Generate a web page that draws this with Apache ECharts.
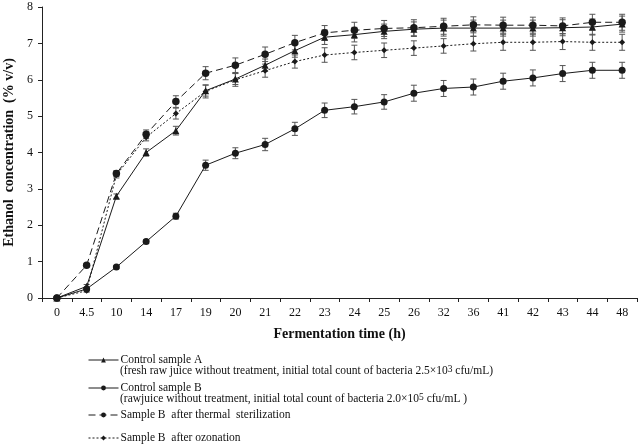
<!DOCTYPE html>
<html>
<head>
<meta charset="utf-8">
<script src="https://cdn.jsdelivr.net/npm/echarts@6/dist/echarts.min.js"></script>
<style>html,body{margin:0;padding:0;background:#fff}#c{width:638px;height:446px}</style>
</head>
<body>
<div id="c"></div>
<script>
var categories = ['0','4.5','10','14','17','19','20','21','22','23','24','25','26','32','36','41','42','43','44','48'];
var yTicks = [0,1,2,3,4,5,6,7,8];

var controlA    = [0, 0.32, 2.80, 4.00, 4.60, 5.70, 6.02, 6.40, 6.80, 7.17, 7.24, 7.33, 7.39, 7.42, 7.42, 7.42, 7.42, 7.43, 7.45, 7.53];
var controlAErr = [0, 0.05, 0.06, 0.10, 0.12, 0.15, 0.15, 0.17, 0.18, 0.20, 0.20, 0.20, 0.20, 0.22, 0.22, 0.22, 0.22, 0.22, 0.22, 0.22];
var controlB    = [0, 0.25, 0.85, 1.55, 2.25, 3.65, 3.98, 4.22, 4.65, 5.16, 5.26, 5.39, 5.63, 5.76, 5.80, 5.96, 6.05, 6.17, 6.26, 6.26];
var controlBErr = [0, 0.03, 0.04, 0.05, 0.08, 0.14, 0.15, 0.17, 0.18, 0.20, 0.20, 0.20, 0.22, 0.22, 0.22, 0.22, 0.22, 0.22, 0.22, 0.22];
var thermal     = [0, 0.90, 3.42, 4.50, 5.40, 6.18, 6.40, 6.70, 7.02, 7.29, 7.36, 7.41, 7.43, 7.47, 7.51, 7.50, 7.50, 7.48, 7.58, 7.58];
var thermalErr  = [0, 0.04, 0.08, 0.12, 0.16, 0.18, 0.20, 0.20, 0.20, 0.20, 0.22, 0.22, 0.22, 0.22, 0.22, 0.22, 0.22, 0.22, 0.22, 0.22];
var ozonation   = [0, 0.20, 3.38, 4.42, 5.07, 5.68, 6.00, 6.25, 6.50, 6.68, 6.75, 6.81, 6.87, 6.93, 6.99, 7.03, 7.03, 7.05, 7.03, 7.03];
var ozonationErr= [0, 0.04, 0.08, 0.10, 0.15, 0.18, 0.18, 0.18, 0.18, 0.20, 0.20, 0.20, 0.20, 0.20, 0.20, 0.22, 0.22, 0.22, 0.22, 0.22];

var names = ['Control sample A', 'Control sample B', 'Sample B  after thermal  sterilization', 'Sample B  after ozonation'];
var subLineA = '(fresh raw juice without treatment, initial total count of bacteria 2.5×10{s|3} cfu/mL)';
var subLineB = '(rawjuice without treatment, initial total count of bacteria 2.0×10{s|5} cfu/mL )';

var FONT = 'Liberation Serif';
var LINE = '#1a1a1a';

function errSeries(vals, errs) {
  var d = vals.map(function (v, i) { return [i, v - errs[i], v + errs[i]]; });
  return {
    type: 'custom',
    silent: true,
    z: 1,
    data: d,
    renderItem: function (params, api) {
      var i = api.value(0);
      var lo = api.coord([i, api.value(1)]);
      var hi = api.coord([i, api.value(2)]);
      var w = 3;
      var st = { stroke: '#555', lineWidth: 1 };
      return {
        type: 'group',
        children: [
          { type: 'line', shape: { x1: lo[0], y1: lo[1], x2: hi[0], y2: hi[1] }, style: st },
          { type: 'line', shape: { x1: lo[0] - w, y1: lo[1], x2: lo[0] + w, y2: lo[1] }, style: st },
          { type: 'line', shape: { x1: hi[0] - w, y1: hi[1], x2: hi[0] + w, y2: hi[1] }, style: st }
        ]
      };
    }
  };
}

function lineSeries(name, vals, symbol, size, dash) {
  return {
    name: name,
    type: 'line',
    data: vals,
    symbol: symbol,
    symbolSize: size,
    z: 3,
    itemStyle: { color: LINE },
    lineStyle: { color: LINE, width: 1, type: dash },
    emphasis: { disabled: true }
  };
}

var legendTops = [354, 382, 409, 432];
var legends = names.map(function (n, k) {
  return {
    data: [n],
    left: 88,
    top: legendTops[k],
    padding: 0,
    itemWidth: 30,
    itemHeight: 6,
    itemGap: 2,
    selectedMode: false,
    lineStyle: { width: 1 },
    textStyle: { fontFamily: FONT, fontSize: 11.5, color: '#111', padding: [0, 0, 0, -3] }
  };
});

var subRich = { s: { fontFamily: FONT, fontSize: 9.5, verticalAlign: 'top', fill: '#111', padding: [0, 0, 3, 0] } };

var chart = echarts.init(document.getElementById('c'), null, { renderer: 'canvas' });
chart.setOption({
  animation: false,
  backgroundColor: '#fff',
  grid: { left: 42, right: 1, top: 7, bottom: 148, containLabel: false, outerBoundsMode: 'none' },
  legend: legends,
  xAxis: {
    type: 'category',
    data: categories,
    boundaryGap: true,
    name: 'Fermentation time (h)',
    nameLocation: 'middle',
    nameGap: 29,
    nameTextStyle: { fontFamily: FONT, fontWeight: 'bold', fontSize: 14, color: '#111' },
    axisLine: { lineStyle: { color: '#222', width: 1 } },
    axisTick: { show: true, interval: 0, length: 4, lineStyle: { color: '#222' } },
    axisLabel: { interval: 0, fontFamily: FONT, fontSize: 12, color: '#111', margin: 9 },
    splitLine: { show: false }
  },
  yAxis: {
    type: 'value',
    min: yTicks[0],
    max: yTicks[yTicks.length - 1],
    interval: 1,
    name: 'Ethanol  concentration  (% v/v)',
    nameLocation: 'middle',
    nameGap: 24,
    nameTextStyle: { fontFamily: FONT, fontWeight: 'bold', fontSize: 14, color: '#111' },
    axisLine: { show: true, lineStyle: { color: '#222', width: 1 } },
    axisTick: { show: true, length: 4, lineStyle: { color: '#222' } },
    axisLabel: { fontFamily: FONT, fontSize: 12, color: '#111', margin: 9 },
    splitLine: { show: false }
  },
  graphic: [
    { type: 'text', left: 120, top: 364, style: { text: subLineA, fontFamily: FONT, fontSize: 11.5, fill: '#111', rich: subRich } },
    { type: 'text', left: 120, top: 392, style: { text: subLineB, fontFamily: FONT, fontSize: 11.5, fill: '#111', rich: subRich } }
  ],
  series: [
    errSeries(controlA, controlAErr),
    errSeries(controlB, controlBErr),
    errSeries(thermal, thermalErr),
    errSeries(ozonation, ozonationErr),
    lineSeries(names[0], controlA, 'triangle', 7, 'solid'),
    lineSeries(names[1], controlB, 'circle', 7, 'solid'),
    lineSeries(names[2], thermal, 'circle', 7.5, [7, 4]),
    lineSeries(names[3], ozonation, 'diamond', 6, [2, 2])
  ]
});
</script>
</body>
</html>
